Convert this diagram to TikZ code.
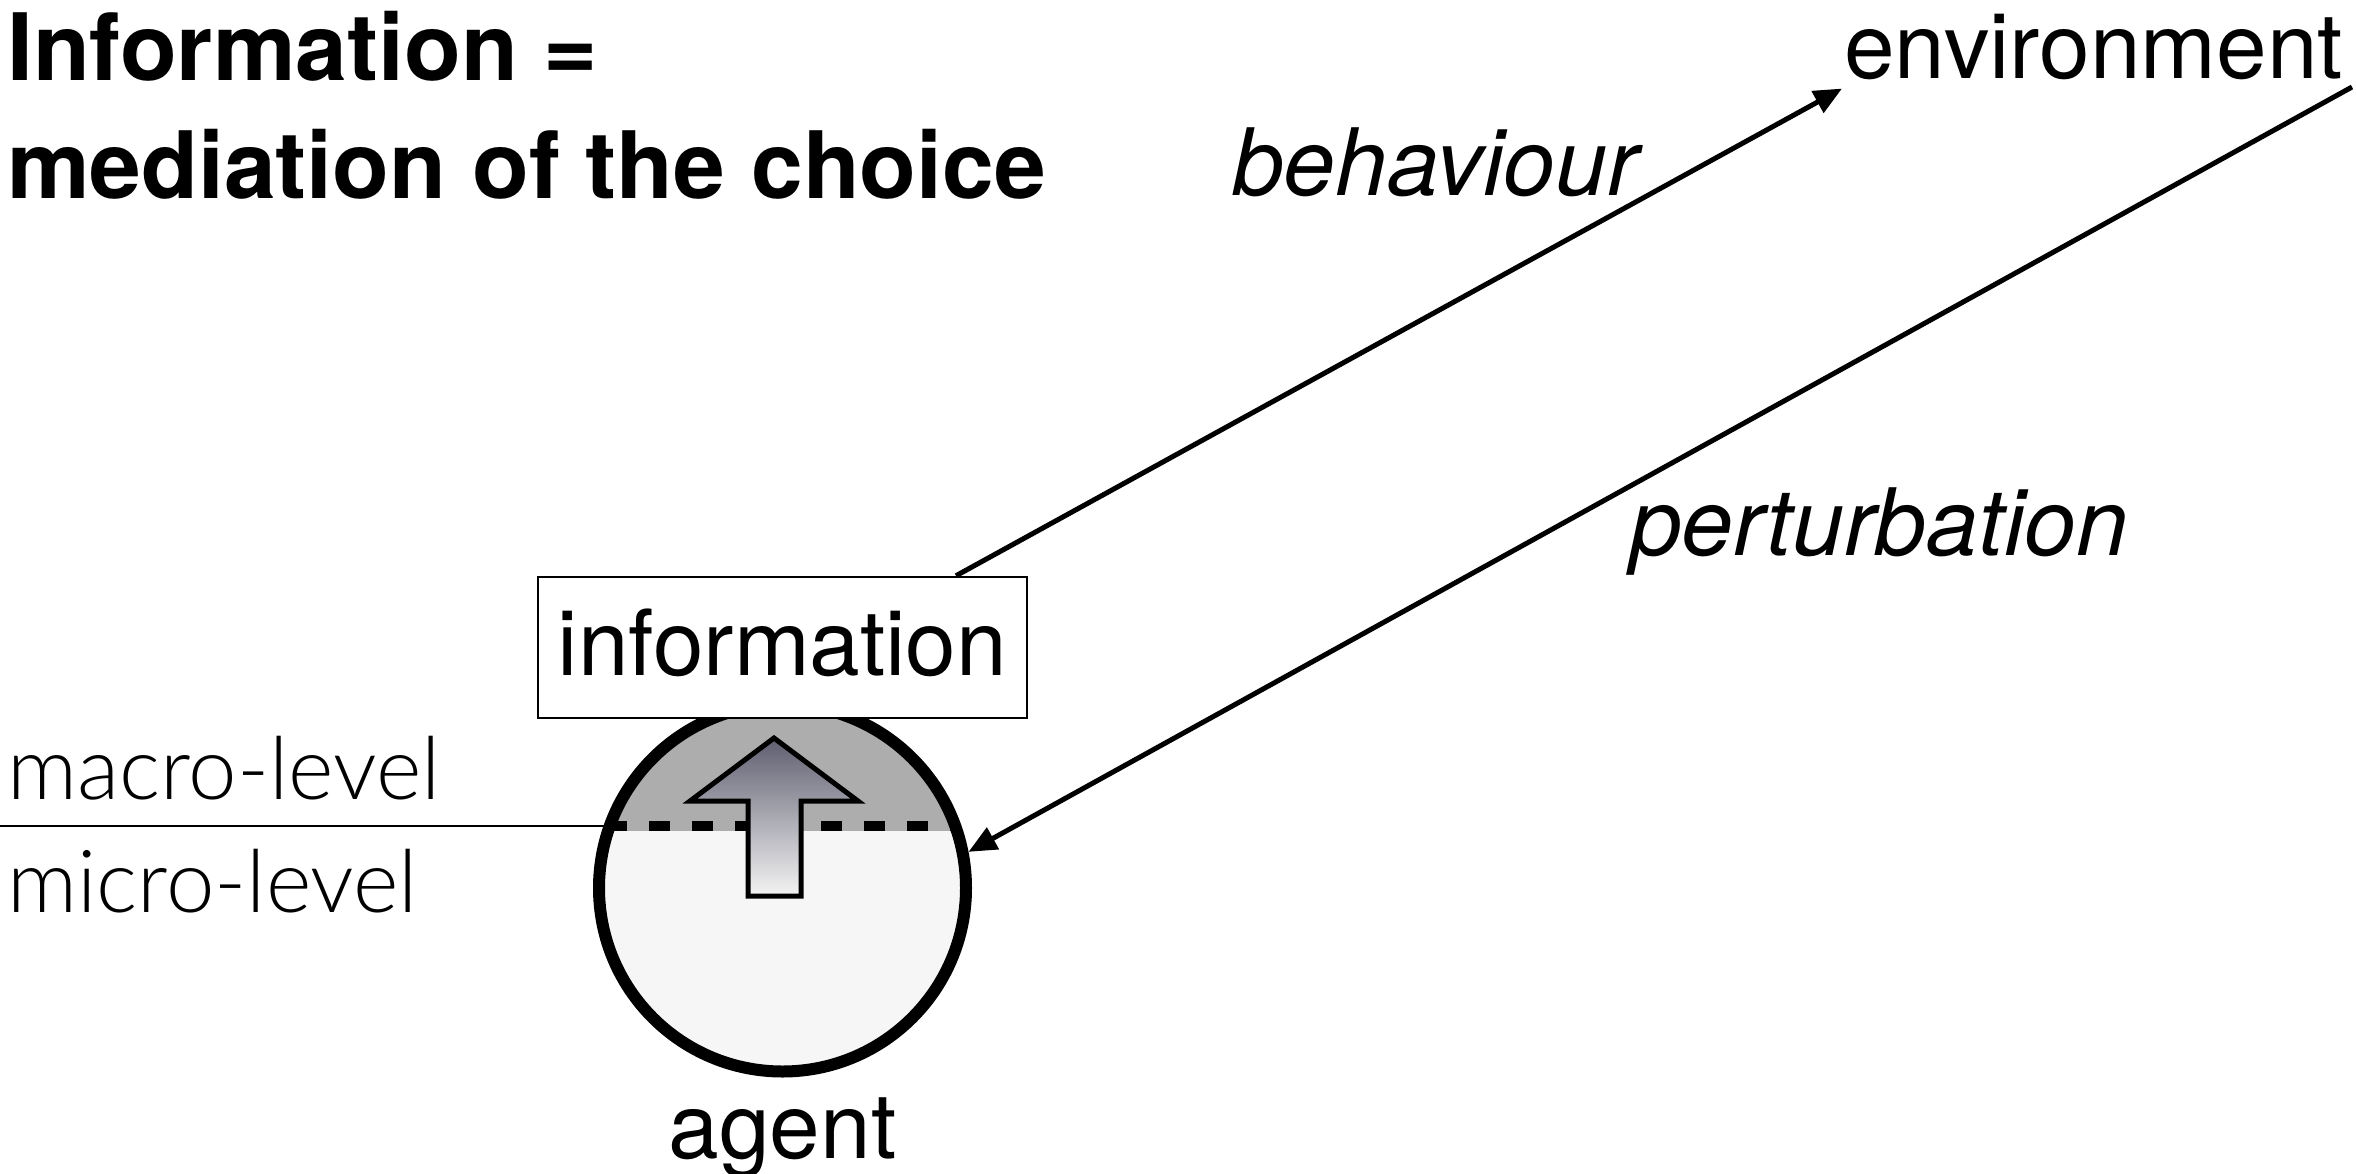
\documentclass[tikz,border=0pt]{standalone}
\usepackage{fontspec}
\setsansfont{TeX Gyre Heros}
\newfontfamily\thinfont{Lato Light}
\usetikzlibrary{arrows.meta}
\definecolor{capgray}{HTML}{ADADAD}
\definecolor{basegray}{HTML}{F6F6F6}
\definecolor{arrowtop}{HTML}{5E5E70}
\definecolor{arrowbot}{HTML}{F4F4F4}
\begin{document}
\begin{tikzpicture}[x=1pt,y=-1pt,
  conn/.style={line width=5pt,-{Triangle[length=28pt,width=24pt]}},
  lbl/.style={font=\sffamily\fontsize{91}{100}\selectfont, inner sep=0pt},
  ital/.style={font=\sffamily\itshape\fontsize{93}{100}\selectfont, inner sep=0pt},
  titlefont/.style={font=\sffamily\bfseries\fontsize{93}{100}\selectfont, inner sep=0pt},
  levelfont/.style={font=\thinfont\fontsize{87}{100}\selectfont, inner sep=0pt}]
\useasboundingbox (0,0) rectangle (2356,1173);

% title
\node[titlefont, anchor=base west] (title1) at (7,80) {Information =};
\node[titlefont, anchor=base west] (title2) at (7,198) {mediation of the choice};

% level labels and separator
\node[levelfont, anchor=base west] (macro) at (7,799) {macro-level};
\node[levelfont, anchor=base west] (micro) at (7,912) {micro-level};
\coordinate (lvl) at (0,826);
\coordinate (agc) at (782.5,888);
\draw[line width=2pt] (lvl) -- (agc |- lvl);

% agent interior
\begin{scope}
  \clip (782.5,888) circle[radius=185];
  \fill[basegray] (590,690) rectangle (980,1085);
  \fill[capgray] (590,690) rectangle (980,831);
  \draw[line width=10pt, dash pattern=on 21pt off 22pt] (606,826) -- (980,826);
\end{scope}
\node[circle, draw, line width=12pt, minimum size=367pt, inner sep=0pt] (agent) at (agc) {};

% emergence arrow
\draw[line width=5pt, line join=miter, top color=arrowtop, bottom color=arrowbot]
  (774,738) -- (858,801) -- (801,801) -- (801,896) -- (748,896) -- (748,801) -- (690,801) -- cycle;

% information box
\node[lbl, draw, line width=2.5pt, fill=white, minimum width=489pt, minimum height=141pt,
      text height=65pt, text depth=10pt] (info) at (782.5,647.5) {information};

\node[lbl, anchor=base] (agentlbl) at (782.5,1158) {agent};
\node[lbl, anchor=base west] (env) at (1844,78) {environment};
\node[ital, anchor=base west] (beh) at (1232,195) {behaviour};
\node[ital, anchor=base west] (pert) at (1630,555) {perturbation};

% connectors
\draw[conn] ([xshift=173.5pt]info.north) -- ([shift={(-2,9)}]env.south west);
\coordinate (pstart) at (2352,87);
\draw[conn] (pstart) -- (agent.11);
\end{tikzpicture}
\end{document}
